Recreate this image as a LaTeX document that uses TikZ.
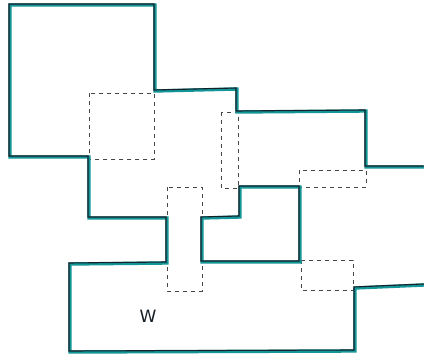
\documentclass[tikz,border=0pt]{standalone}
\usepackage{fontspec}
\setsansfont{DejaVu Sans}
\definecolor{tealmk}{RGB}{18,150,152}
\definecolor{ink}{RGB}{22,32,40}
\definecolor{dashgray}{RGB}{70,70,70}
\tikzset{
  wall/.style={draw=tealmk, line width=3.4pt, line join=miter, line cap=rect,
    postaction={draw=ink, line width=1.1pt, line join=miter,
      transform canvas={xshift=-1pt, yshift=1pt}}},
  zone/.style={draw=dashgray, line width=0.8pt, dash pattern=on 4pt off 4pt},
  lbl/.style={font=\sffamily\fontsize{17}{17}\selectfont, text=ink, inner sep=0pt}
}
\begin{document}
\begin{tikzpicture}[x=1pt, y=-1pt]
\useasboundingbox[fill=white] (0,0) rectangle (424,361);
% dashed zones
\draw[zone] (89,93) rectangle (154,159);
\draw[zone] (221,112) rectangle (238,188);
\draw[zone] (167,187) rectangle (202,291);
\draw[zone] (299,170) rectangle (366,187);
\draw[zone] (301,260) rectangle (353,290);
% main outline
\draw[wall] (424,167) -- (366,167) -- (366,111) -- (237,112) -- (237,89)
  -- (155,91) -- (155,5) -- (10,5) -- (10,157) -- (89,157) -- (89,218)
  -- (167,218) -- (167,263) -- (70,264) -- (70,352) -- (355,351)
  -- (355,288) -- (424,285);
% middle piece
\draw[wall] (202,218) -- (240,217) -- (240,187) -- (300,187) -- (300,262)
  -- (202,262) -- cycle;
\node[lbl] (w) at (148,316) {W};
\end{tikzpicture}
\end{document}
